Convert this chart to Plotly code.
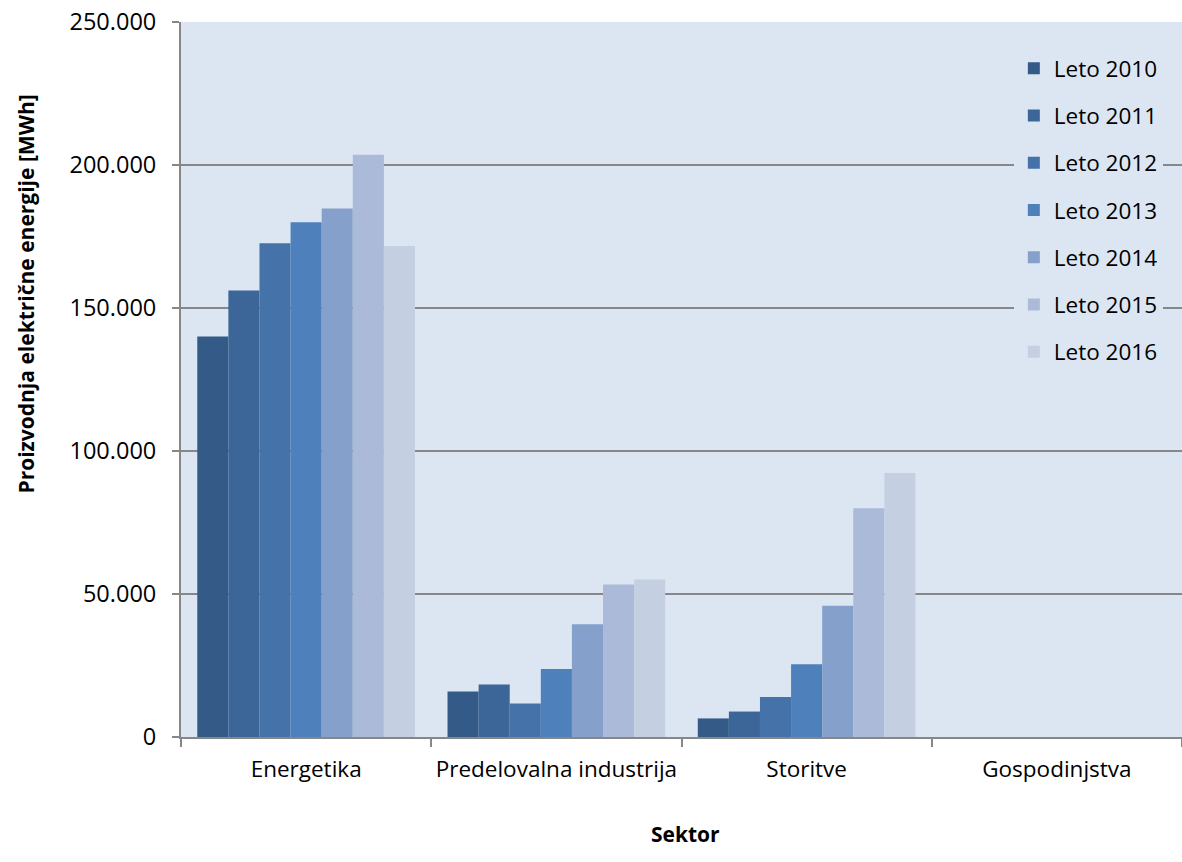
import plotly.graph_objects as go

# Sectors on the category axis
sectors = ["Energetika", "Predelovalna industrija", "Storitve", "Gospodinjstva"]

# Yearly electricity production per sector [MWh]
leto_2010 = [140000, 15900, 6500, 0]
leto_2011 = [156100, 18400, 8900, 0]
leto_2012 = [172600, 11700, 14000, 0]
leto_2013 = [180000, 23800, 25400, 0]
leto_2014 = [184800, 39400, 45900, 0]
leto_2015 = [203600, 53300, 80000, 0]
leto_2016 = [171700, 55100, 92300, 0]

series_names = ["Leto 2010", "Leto 2011", "Leto 2012", "Leto 2013",
                "Leto 2014", "Leto 2015", "Leto 2016"]
series_values = [leto_2010, leto_2011, leto_2012, leto_2013,
                 leto_2014, leto_2015, leto_2016]
series_colors = ["#345A87", "#3C6598", "#4672AA", "#4E80BC",
                 "#84A0CB", "#AABAD8", "#C4CFE2"]

FONT = "Open Sans"
GRID = "#878787"
PLOT_BG = "#DCE6F2"

fig = go.Figure()
for name, vals, col in zip(series_names, series_values, series_colors):
    fig.add_trace(go.Bar(
        x=sectors, y=vals, name=name, legendgroup=name,
        marker=dict(color=col, line=dict(width=0)),
    ))

fig.update_layout(
    width=1182, height=862,
    margin=dict(l=181, r=0, t=22, b=125, autoexpand=False),
    paper_bgcolor="white",
    plot_bgcolor=PLOT_BG,
    barmode="group",
    bargap=0.13,
    bargroupgap=0,
    separators=",.",
    font=dict(family=FONT, size=22, color="#000000"),
    showlegend=True,
    legend=dict(
        x=0.832, xref="paper", xanchor="left",
        y=0.965, yref="paper", yanchor="top",
        bgcolor=PLOT_BG,
        font=dict(family=FONT, size=22.5, color="#000000"),
        tracegroupgap=15,
        itemwidth=30,
    ),
    xaxis=dict(
        type="category",
        automargin=False,
        tickangle=0,
        showline=True, linecolor=GRID, linewidth=2,
        ticks="outside", tickson="boundaries", ticklen=8,
        tickcolor=GRID, tickwidth=2,
        showgrid=False,
        ticklabelstandoff=11,
        tickfont=dict(family=FONT, size=22.5, color="#000000"),
    ),
    yaxis=dict(
        automargin=False,
        range=[0, 250000], dtick=50000, tickformat=",d",
        showline=True, linecolor=GRID, linewidth=2,
        ticks="outside", ticklen=7, tickcolor=GRID, tickwidth=2,
        showgrid=True, gridcolor=GRID, gridwidth=2,
        zeroline=False,
        ticklabelstandoff=11,
        tickfont=dict(family=FONT, size=23.5, color="#000000"),
    ),
    annotations=[
        dict(text="<b>Proizvodnja električne energije [MWh]</b>",
             xref="paper", yref="paper", x=-0.155, y=0.62,
             xanchor="center", yanchor="middle", textangle=-90,
             showarrow=False,
             font=dict(family=FONT, size=21, color="#000000")),
        dict(text="<b>Sektor</b>",
             xref="paper", yref="paper", x=0.504, y=-0.136,
             xanchor="center", yanchor="middle",
             showarrow=False,
             font=dict(family=FONT, size=21, color="#000000")),
    ],
)

fig.write_html("out.html")
